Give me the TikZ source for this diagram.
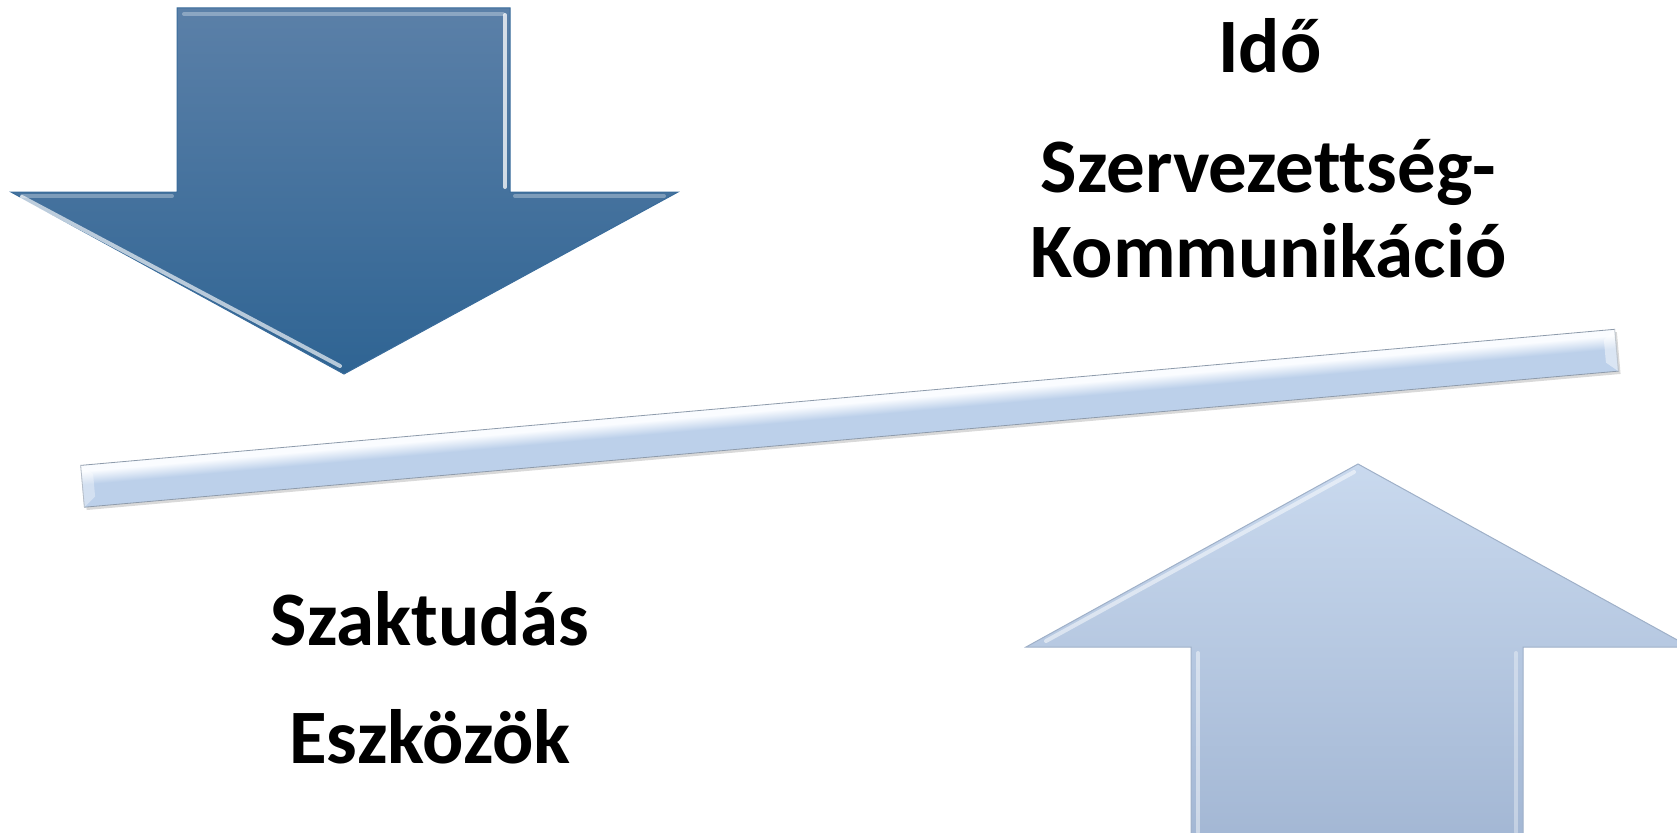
\documentclass[tikz,border=0pt]{standalone}
\usepackage{fontspec}
\setmainfont{Carlito}[Ligatures=NoCommon]
\usetikzlibrary{shadows,calc}

\definecolor{downtop}{HTML}{5B80A8}
\definecolor{downbottom}{HTML}{2F6493}
\definecolor{downedge}{HTML}{3A6C9B}
\definecolor{uptop}{HTML}{C9D9EE}
\definecolor{upbottom}{HTML}{A3B7D4}
\definecolor{upedge}{HTML}{9FB0C8}
\definecolor{barbody}{HTML}{BCD0EA}
\definecolor{barlow}{HTML}{AABED9}
\definecolor{barupper}{HTML}{CCDCF0}
\definecolor{barhigh}{HTML}{FAFCFF}
\definecolor{baredge}{HTML}{8E9BAB}

\pgfdeclareverticalshading{barshade}{100bp}{color(0bp)=(barlow); color(10bp)=(barbody); color(52bp)=(barbody); color(68bp)=(barhigh); color(74bp)=(barhigh); color(88bp)=(barupper); color(100bp)=(barbody)}

\begin{document}
\begin{tikzpicture}[x=1pt, y=-1pt]
\tikzstyle{downarrow} = [top color=downtop, bottom color=downbottom, draw=downedge, line width=1pt]
\tikzstyle{uparrow} = [top color=uptop, bottom color=upbottom, draw=upedge, line width=1pt]
\tikzstyle{barnode} = [rectangle, shading=barshade, draw=baredge, line width=0.8pt, inner sep=0pt, minimum width=1540pt, minimum height=42pt, drop shadow={shadow xshift=2pt, shadow yshift=-3pt, opacity=0.3}]
\tikzstyle{bevel} = [white, opacity=0.5, line width=4pt, line cap=round]
\tikzstyle{bigtext} = [font=\fontsize{77}{84}\selectfont\bfseries, anchor=base, inner sep=0pt]

\useasboundingbox (0,0) rectangle (1677,832);
\clip (0,0) rectangle (1677,832);

% Down arrow (top left)
\shade[downarrow] (177,8) -- (510,8) -- (510,192) -- (678,192) -- (344,374) -- (11,192) -- (177,192) -- cycle;
\draw[bevel, opacity=0.65] (22,197) -- (340,366);
\draw[bevel, opacity=0.3] (184,14) -- (503,14);
\draw[bevel, opacity=0.75] (505,15) -- (505,187);
\draw[bevel, opacity=0.3] (22,196) -- (172,196);
\draw[bevel, opacity=0.3] (515,196) -- (664,196);

% Up arrow (bottom right)
\shade[uparrow] (1191,840) -- (1191,647) -- (1026,647) -- (1358,464) -- (1690,647) -- (1523,647) -- (1523,840) -- cycle;
\draw[bevel] (1046,641) -- (1354,472);
\draw[bevel, opacity=0.45] (1198,653) -- (1198,832);
\draw[bevel, opacity=0.35] (1516,653) -- (1516,832);

% Tilted bar
\begin{scope}[transform canvas={rotate around={5.07:(849.5,418.25)}}]
\node[barnode] (bar) at (849.5,418.25) {};
\fill[white, opacity=0.35] (bar.north west) -- ([xshift=12pt, yshift=-10pt]bar.north west) -- ([xshift=12pt, yshift=10pt]bar.south west) -- (bar.south west) -- cycle;
\fill[white, opacity=0.45] (bar.north east) -- ([xshift=-12pt, yshift=-10pt]bar.north east) -- ([xshift=-12pt, yshift=10pt]bar.south east) -- (bar.south east) -- cycle;
\end{scope}

% Labels
\node[bigtext] (ido) at (1270,73) {Idő};
\node[bigtext] (szervezettseg) at (1268.5,192) {Szervezettség-};
\node[bigtext] (kommunikacio) at ([yshift=-85pt]szervezettseg.base) {Kommunikáció};
\node[bigtext] (szaktudas) at (430,645) {Szaktudás};
\node[bigtext] (eszkozok) at ([yshift=-118pt]szaktudas.base) {Eszközök};

\end{tikzpicture}
\end{document}
